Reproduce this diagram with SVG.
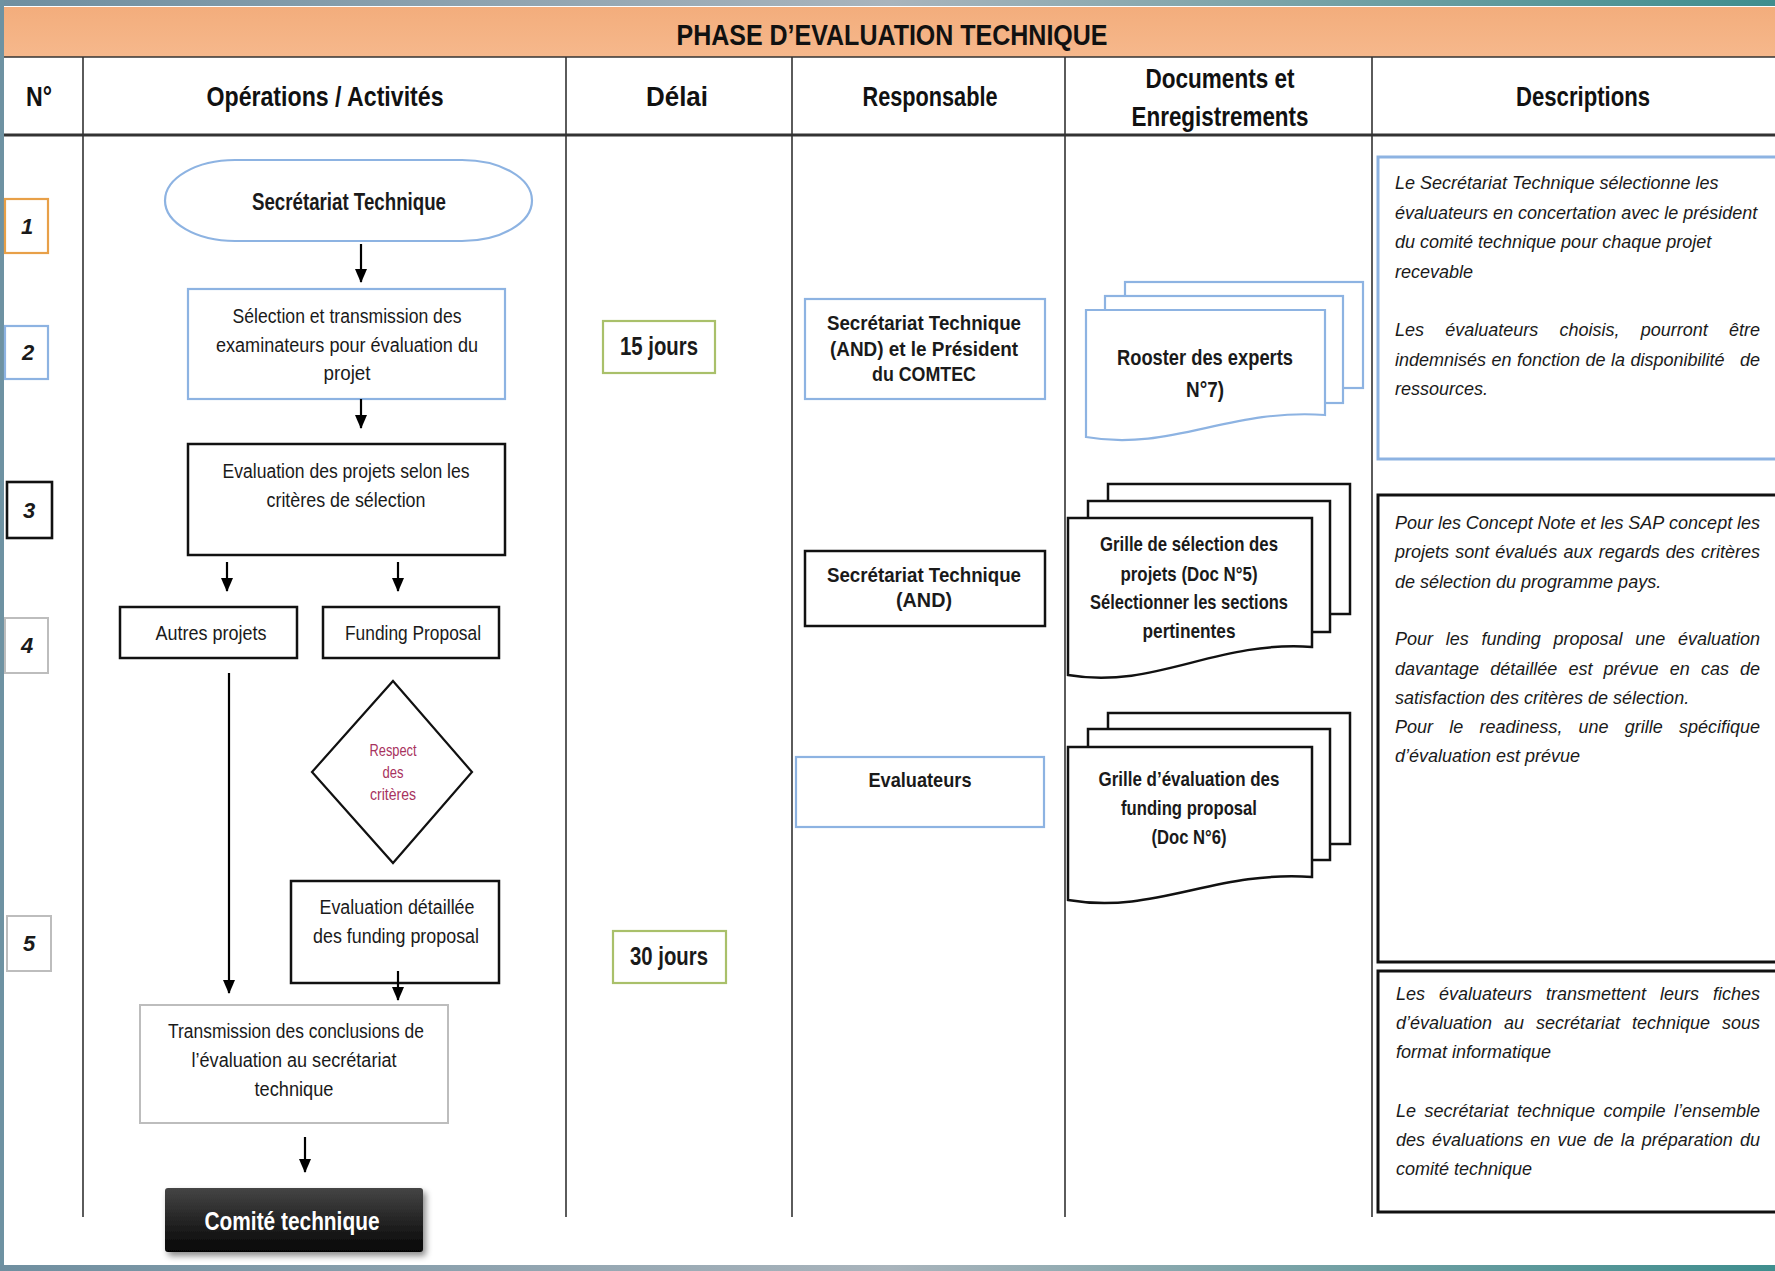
<svg xmlns="http://www.w3.org/2000/svg" width="1775" height="1271" viewBox="0 0 1775 1271">
<defs>
<style>
.t{font-family:"Liberation Sans",Arial,sans-serif;fill:#1a1a1a}
.b{font-weight:bold}
.i{font-style:italic}
.c{text-anchor:middle}
.hd{font-size:28px;font-weight:bold;fill:#111}
.nd{font-size:20px}
.ds{font-size:18px;font-style:italic}
.col{stroke:#333;stroke-width:1.6;fill:none}
.blk{fill:#fff;stroke:#111;stroke-width:2.5}
.blu{fill:#fff;stroke:#8db3e2;stroke-width:2.2}
.gry{fill:#fff;stroke:#bdbdbd;stroke-width:2}
.grn{fill:#fff;stroke:#a9c06a;stroke-width:2.2}
.arr{stroke:#000;stroke-width:2.2;fill:none;marker-end:url(#ah)}
</style>
<marker id="ah" markerUnits="userSpaceOnUse" markerWidth="14" markerHeight="14" viewBox="0 0 14 14" refX="13" refY="7" orient="auto">
<path d="M0,1 L14,7 L0,13 Z" fill="#000"/>
</marker>
<linearGradient id="top" x1="0" x2="1" y1="0" y2="0">
<stop offset="0" stop-color="#6f8fa0"/><stop offset="0.5" stop-color="#a9b4bc"/><stop offset="1" stop-color="#3f8e8e"/>
</linearGradient>
<linearGradient id="org" x1="0" x2="0" y1="0" y2="1">
<stop offset="0" stop-color="#f3ad7c"/><stop offset="1" stop-color="#f6b88c"/>
</linearGradient>
<linearGradient id="dark" x1="0" x2="0" y1="0" y2="1">
<stop offset="0" stop-color="#454545"/><stop offset="1" stop-color="#050505"/>
</linearGradient>
<filter id="sh" x="-10%" y="-20%" width="125%" height="150%">
<feDropShadow dx="3" dy="4" stdDeviation="3" flood-color="#000" flood-opacity="0.45"/>
</filter>
</defs>

<rect width="1775" height="1271" fill="#fff"/>

<g id="frame">
<rect x="0" y="0" width="1775" height="6" fill="url(#top)"/>
<rect x="0" y="0" width="4" height="1271" fill="#6e92a2"/>
<rect x="0" y="1265" width="1775" height="6" fill="url(#top)"/>
<rect x="4" y="7" width="1771" height="50" fill="url(#org)"/>
<line x1="4" y1="57" x2="1775" y2="57" stroke="#333" stroke-width="1.6"/>
<line x1="4" y1="135" x2="1775" y2="135" stroke="#333" stroke-width="2.8"/>
<text class="t hd c" style="font-size:29px" x="892" y="45" textLength="431" lengthAdjust="spacingAndGlyphs">PHASE D’EVALUATION TECHNIQUE</text>
</g>

<g id="columns">
<line class="col" x1="83" y1="57" x2="83" y2="1217"/>
<line class="col" x1="566" y1="57" x2="566" y2="1217"/>
<line class="col" x1="792" y1="57" x2="792" y2="1217"/>
<line class="col" x1="1065" y1="57" x2="1065" y2="1217"/>
<line class="col" x1="1372" y1="57" x2="1372" y2="1217"/>
</g>

<g id="headers">
<text class="t hd c" x="39" y="106" textLength="26" lengthAdjust="spacingAndGlyphs">N°</text>
<text class="t hd c" x="325" y="106" textLength="237" lengthAdjust="spacingAndGlyphs">Opérations / Activités</text>
<text class="t hd c" x="677" y="106" textLength="62" lengthAdjust="spacingAndGlyphs">Délai</text>
<text class="t hd c" x="930" y="106" textLength="135" lengthAdjust="spacingAndGlyphs">Responsable</text>
<text class="t hd c" x="1220" y="88" textLength="149" lengthAdjust="spacingAndGlyphs">Documents et</text>
<text class="t hd c" x="1220" y="126" textLength="177" lengthAdjust="spacingAndGlyphs">Enregistrements</text>
<text class="t hd c" x="1583" y="106" textLength="134" lengthAdjust="spacingAndGlyphs">Descriptions</text>
</g>

<g id="num1"><rect x="5" y="199" width="43" height="54" fill="#fff" stroke="#e8a048" stroke-width="2.2"/><text class="t b i c" style="font-size:22px" x="27" y="234">1</text></g>
<g id="num2"><rect x="5" y="326" width="43" height="53" fill="#fff" stroke="#8db3e2" stroke-width="2.2"/><text class="t b i c" style="font-size:22px" x="28" y="360">2</text></g>
<g id="num3"><rect x="7" y="482" width="45" height="56" fill="#fff" stroke="#111" stroke-width="2.6"/><text class="t b i c" style="font-size:22px" x="29" y="518">3</text></g>
<g id="num4"><rect x="5" y="618" width="43" height="55" fill="#fff" stroke="#bdbdbd" stroke-width="2"/><text class="t b i c" style="font-size:22px" x="27" y="653">4</text></g>
<g id="num5"><rect x="7" y="916" width="44" height="55" fill="#fff" stroke="#bdbdbd" stroke-width="2"/><text class="t b i c" style="font-size:22px" x="29" y="951">5</text></g>

<g id="start">
<rect x="165" y="160" width="367" height="81" rx="70" ry="40.5" fill="#fff" stroke="#8db3e2" stroke-width="2.2"/>
<text class="t b c" style="font-size:23px" x="349" y="210" textLength="194" lengthAdjust="spacingAndGlyphs">Secrétariat Technique</text>
</g>

<g id="selection">
<rect class="blu" x="188" y="289" width="317" height="110"/>
<text class="t nd c" x="347" y="323" textLength="229" lengthAdjust="spacingAndGlyphs">Sélection et transmission des</text>
<text class="t nd c" x="347" y="352" textLength="262" lengthAdjust="spacingAndGlyphs">examinateurs pour évaluation du</text>
<text class="t nd c" x="347" y="380" textLength="47" lengthAdjust="spacingAndGlyphs">projet</text>
</g>

<g id="evaluation">
<rect class="blk" x="188" y="444" width="317" height="111"/>
<text class="t nd c" x="346" y="478" textLength="247" lengthAdjust="spacingAndGlyphs">Evaluation des projets selon les</text>
<text class="t nd c" x="346" y="507" textLength="159" lengthAdjust="spacingAndGlyphs">critères de sélection</text>
</g>

<g id="autres">
<rect class="blk" x="120" y="607" width="177" height="51"/>
<text class="t nd c" x="211" y="640" textLength="111" lengthAdjust="spacingAndGlyphs">Autres projets</text>
</g>

<g id="funding">
<rect class="blk" x="323" y="607" width="176" height="51"/>
<text class="t nd c" x="413" y="640" textLength="136" lengthAdjust="spacingAndGlyphs">Funding Proposal</text>
</g>

<g id="decision">
<polygon points="393,681 472,772 393,863 312,772" fill="#fff" stroke="#111" stroke-width="2.2"/>
<text class="t c" style="font-size:16px;fill:#a8325e" x="393" y="756" textLength="47" lengthAdjust="spacingAndGlyphs">Respect</text>
<text class="t c" style="font-size:16px;fill:#a8325e" x="393" y="778" textLength="21" lengthAdjust="spacingAndGlyphs">des</text>
<text class="t c" style="font-size:16px;fill:#a8325e" x="393" y="800" textLength="46" lengthAdjust="spacingAndGlyphs">critères</text>
</g>

<g id="detaillee">
<rect class="blk" x="291" y="881" width="208" height="102"/>
<text class="t nd c" x="397" y="914" textLength="155" lengthAdjust="spacingAndGlyphs">Evaluation détaillée</text>
<text class="t nd c" x="396" y="943" textLength="166" lengthAdjust="spacingAndGlyphs">des funding proposal</text>
</g>

<g id="transmission">
<rect class="gry" x="140" y="1005" width="308" height="118"/>
<text class="t nd c" x="296" y="1038" textLength="256" lengthAdjust="spacingAndGlyphs">Transmission des conclusions de</text>
<text class="t nd c" x="294" y="1067" textLength="205" lengthAdjust="spacingAndGlyphs">l’évaluation au secrétariat</text>
<text class="t nd c" x="294" y="1096" textLength="79" lengthAdjust="spacingAndGlyphs">technique</text>
</g>

<g id="comite">
<rect x="165" y="1188" width="258" height="64" rx="3" fill="url(#dark)" filter="url(#sh)"/>
<text class="t b c" style="font-size:25px;fill:#fff" x="292" y="1230" textLength="175" lengthAdjust="spacingAndGlyphs">Comité technique</text>
</g>

<g id="connectors">
<line class="arr" x1="361" y1="244" x2="361" y2="282"/>
<line class="arr" x1="361" y1="399" x2="361" y2="428"/>
<line class="arr" x1="227" y1="562" x2="227" y2="591"/>
<line class="arr" x1="398" y1="562" x2="398" y2="591"/>
<line class="arr" x1="229" y1="673" x2="229" y2="993"/>
<line class="arr" x1="398" y1="971" x2="398" y2="1000"/>
<line class="arr" x1="305" y1="1137" x2="305" y2="1172"/>
</g>

<g id="delai15">
<rect class="grn" x="603" y="321" width="112" height="52"/>
<text class="t b c" style="font-size:25px" x="659" y="355" textLength="78" lengthAdjust="spacingAndGlyphs">15 jours</text>
</g>
<g id="delai30">
<rect class="grn" x="613" y="931" width="113" height="52"/>
<text class="t b c" style="font-size:25px" x="669" y="965" textLength="78" lengthAdjust="spacingAndGlyphs">30 jours</text>
</g>

<g id="resp1">
<rect class="blu" x="805" y="299" width="240" height="100"/>
<text class="t b c" style="font-size:21px" x="924" y="330" textLength="194" lengthAdjust="spacingAndGlyphs">Secrétariat Technique</text>
<text class="t b c" style="font-size:21px" x="924" y="356" textLength="188" lengthAdjust="spacingAndGlyphs">(AND) et le Président</text>
<text class="t b c" style="font-size:21px" x="924" y="381" textLength="104" lengthAdjust="spacingAndGlyphs">du COMTEC</text>
</g>
<g id="resp2">
<rect class="blk" x="805" y="551" width="240" height="75"/>
<text class="t b c" style="font-size:21px" x="924" y="582" textLength="194" lengthAdjust="spacingAndGlyphs">Secrétariat Technique</text>
<text class="t b c" style="font-size:21px" x="924" y="607" textLength="56" lengthAdjust="spacingAndGlyphs">(AND)</text>
</g>
<g id="resp3">
<rect class="blu" x="796" y="757" width="248" height="70"/>
<text class="t b c" style="font-size:21px" x="920" y="787" textLength="103" lengthAdjust="spacingAndGlyphs">Evaluateurs</text>
</g>

<g id="doc1">
<rect x="1125" y="282" width="238" height="106" fill="#fff" stroke="#8db3e2" stroke-width="2.2"/>
<rect x="1105" y="296" width="238" height="107" fill="#fff" stroke="#8db3e2" stroke-width="2.2"/>
<path d="M1086,310 H1325 V415 C1230,408 1170,452 1086,437 Z" fill="#fff" stroke="#8db3e2" stroke-width="2.2"/>
<text class="t b c" style="font-size:22px" x="1205" y="365" textLength="176" lengthAdjust="spacingAndGlyphs">Rooster des experts</text>
<text class="t b c" style="font-size:22px" x="1205" y="397" textLength="38" lengthAdjust="spacingAndGlyphs">N°7)</text>
</g>

<g id="doc2">
<rect class="blk" x="1108" y="484" width="242" height="130"/>
<rect class="blk" x="1088" y="501" width="242" height="131"/>
<path class="blk" d="M1068,518 H1312 V647 C1215,640 1155,690 1068,675 Z"/>
<text class="t b c" style="font-size:21px" x="1189" y="551" textLength="178" lengthAdjust="spacingAndGlyphs">Grille de sélection des</text>
<text class="t b c" style="font-size:21px" x="1189" y="581" textLength="137" lengthAdjust="spacingAndGlyphs">projets (Doc N°5)</text>
<text class="t b c" style="font-size:21px" x="1189" y="609" textLength="198" lengthAdjust="spacingAndGlyphs">Sélectionner les sections</text>
<text class="t b c" style="font-size:21px" x="1189" y="638" textLength="93" lengthAdjust="spacingAndGlyphs">pertinentes</text>
</g>

<g id="doc3">
<rect class="blk" x="1108" y="713" width="242" height="131"/>
<rect class="blk" x="1088" y="729" width="242" height="131"/>
<path class="blk" d="M1068,747 H1312 V877 C1215,870 1155,915 1068,900 Z"/>
<text class="t b c" style="font-size:21px" x="1189" y="786" textLength="181" lengthAdjust="spacingAndGlyphs">Grille d’évaluation des</text>
<text class="t b c" style="font-size:21px" x="1189" y="815" textLength="136" lengthAdjust="spacingAndGlyphs">funding proposal</text>
<text class="t b c" style="font-size:21px" x="1189" y="844" textLength="75" lengthAdjust="spacingAndGlyphs">(Doc N°6)</text>
</g>

<g id="desc1">
<rect x="1378" y="157" width="400" height="302" fill="#fff" stroke="#8db3e2" stroke-width="3"/>
<text class="t ds" x="1395" y="189">Le Secrétariat Technique sélectionne les</text>
<text class="t ds" x="1395" y="219">évaluateurs en concertation avec le président</text>
<text class="t ds" x="1395" y="248">du comité technique pour chaque projet</text>
<text class="t ds" x="1395" y="278">recevable</text>
<text class="t ds" y="336"><tspan x="1395">Les</tspan> <tspan x="1445.2">évaluateurs</tspan> <tspan x="1559.5">choisis,</tspan> <tspan x="1640.7">pourront</tspan> <tspan x="1729">être</tspan></text>
<text class="t ds" y="366"><tspan x="1395">indemnisés</tspan> <tspan x="1491.5">en</tspan> <tspan x="1517">fonction</tspan> <tspan x="1585.5">de</tspan> <tspan x="1611">la</tspan> <tspan x="1630.5">disponibilité</tspan> <tspan x="1740">de</tspan></text>
<text class="t ds" x="1395" y="395">ressources.</text>
</g>

<g id="desc2">
<rect x="1378" y="495" width="400" height="467" fill="#fff" stroke="#111" stroke-width="3"/>
<text class="t ds" y="529"><tspan x="1395">Pour</tspan> <tspan x="1437.9">les</tspan> <tspan x="1465.8">Concept</tspan> <tspan x="1537.6">Note</tspan> <tspan x="1580.5">et</tspan> <tspan x="1600.4">les</tspan> <tspan x="1628.3">SAP</tspan> <tspan x="1669.1">concept</tspan> <tspan x="1737">les</tspan></text>
<text class="t ds" y="558"><tspan x="1395">projets</tspan> <tspan x="1455.2">sont</tspan> <tspan x="1495.3">évalués</tspan> <tspan x="1563.5">aux</tspan> <tspan x="1598.7">regards</tspan> <tspan x="1665.8">des</tspan> <tspan x="1701">critères</tspan></text>
<text class="t ds" x="1395" y="588">de sélection du programme pays.</text>
<text class="t ds" y="645"><tspan x="1395">Pour</tspan> <tspan x="1445.8">les</tspan> <tspan x="1481.6">funding</tspan> <tspan x="1553.4">proposal</tspan> <tspan x="1635.2">une</tspan> <tspan x="1678">évaluation</tspan></text>
<text class="t ds" y="675"><tspan x="1395">davantage</tspan> <tspan x="1490.3">détaillée</tspan> <tspan x="1568.4">est</tspan> <tspan x="1603.6">prévue</tspan> <tspan x="1669.7">en</tspan> <tspan x="1700.9">cas</tspan> <tspan x="1740">de</tspan></text>
<text class="t ds" x="1395" y="704">satisfaction des critères de sélection.</text>
<text class="t ds" y="733"><tspan x="1395">Pour</tspan> <tspan x="1449.2">le</tspan> <tspan x="1479.4">readiness,</tspan> <tspan x="1578.6">une</tspan> <tspan x="1624.8">grille</tspan> <tspan x="1679">spécifique</tspan></text>
<text class="t ds" x="1395" y="762">d’évaluation est prévue</text>
</g>

<g id="desc3">
<rect x="1378" y="971" width="400" height="241" fill="#fff" stroke="#111" stroke-width="3"/>
<text class="t ds" y="1000"><tspan x="1396">Les</tspan> <tspan x="1439">évaluateurs</tspan> <tspan x="1546">transmettent</tspan> <tspan x="1660">leurs</tspan> <tspan x="1713">fiches</tspan></text>
<text class="t ds" y="1029"><tspan x="1396">d’évaluation</tspan> <tspan x="1504">au</tspan> <tspan x="1536">secrétariat</tspan> <tspan x="1632">technique</tspan> <tspan x="1722">sous</tspan></text>
<text class="t ds" x="1396" y="1058">format informatique</text>
<text class="t ds" y="1117"><tspan x="1396">Le</tspan> <tspan x="1424.5">secrétariat</tspan> <tspan x="1517">technique</tspan> <tspan x="1603.5">compile</tspan> <tspan x="1674">l’ensemble</tspan></text>
<text class="t ds" y="1146"><tspan x="1396">des</tspan> <tspan x="1432.1">évaluations</tspan> <tspan x="1530.3">en</tspan> <tspan x="1557.4">vue</tspan> <tspan x="1593.5">de</tspan> <tspan x="1620.7">la</tspan> <tspan x="1641.8">préparation</tspan> <tspan x="1740">du</tspan></text>
<text class="t ds" x="1396" y="1175">comité technique</text>
</g>
</svg>
